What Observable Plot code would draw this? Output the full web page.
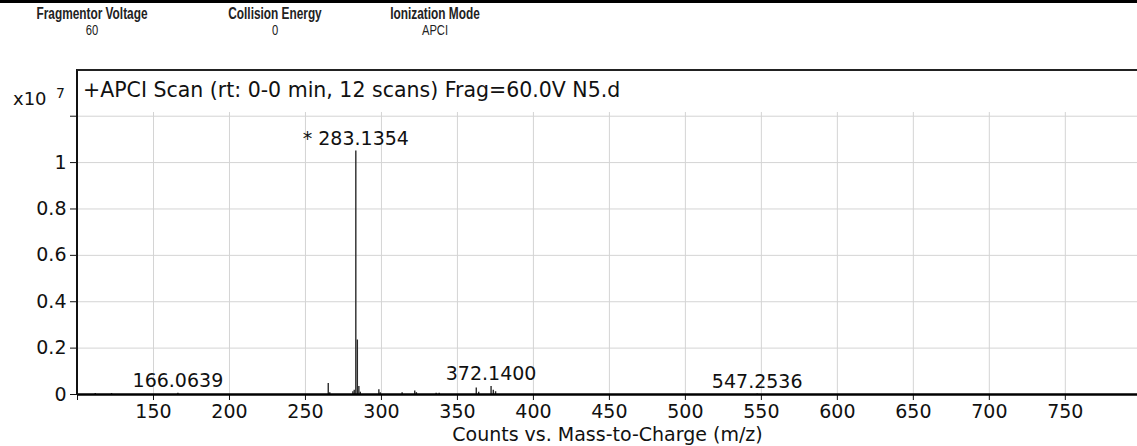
<!DOCTYPE html>
<html>
<head>
<meta charset="utf-8">
<script src="https://cdn.jsdelivr.net/npm/d3@7"></script>
<script src="https://cdn.jsdelivr.net/npm/@observablehq/plot@0.6"></script>
<style>
  html, body { margin: 0; padding: 0; background: #fff; }
  #wrap { position: relative; width: 1137px; height: 446px; overflow: hidden; background: #fff; font-family: "DejaVu Sans", sans-serif; color: #111; }
  #topbar { position: absolute; left: 0; top: 0; width: 1137px; height: 3px; background: #000; }
  .hd { position: absolute; width: 200px; text-align: center; color: #222; white-space: nowrap; }
  .hd.t { font-family: "Liberation Sans", Arial, sans-serif; font-weight: bold; font-size: 16px; line-height: 16px; transform: scaleX(0.74); }
  .hd.v { font-family: "Liberation Sans", Arial, sans-serif; font-size: 14px; line-height: 14px; transform: scaleX(0.8); }
  .ab { position: absolute; line-height: 1; white-space: nowrap; }
  #chart { position: absolute; left: 0; top: 64px; }
  #frame { position: absolute; left: 76px; top: 69px; width: 1061px; height: 326px; box-sizing: border-box; border-top: 2px solid #222; border-left: 2px solid #111; pointer-events: none; }
</style>
</head>
<body>
<div id="wrap">
  <div id="topbar"></div>
  <div class="hd t" style="left:-8px; top:6px;">Fragmentor Voltage</div>
  <div class="hd v" style="left:-8px; top:23px;">60</div>
  <div class="hd t" style="left:175px; top:6px;">Collision Energy</div>
  <div class="hd v" style="left:175px; top:23px;">0</div>
  <div class="hd t" style="left:335px; top:6px;">Ionization Mode</div>
  <div class="hd v" style="left:335px; top:23px;">APCI</div>
  <div id="chart"></div>
  <div id="frame"></div>
  <div class="ab" style="left:13px; top:90px; font-size:18px;">x10</div>
  <div class="ab" style="left:56px; top:86px; font-size:14px;">7</div>
  <div class="ab" style="left:83px; top:80px; font-size:20.5px;">+APCI Scan (rt: 0-0 min, 12 scans) Frag=60.0V N5.d</div>
</div>
<script>
// Peak list (m/z) and intensities (Counts, ×10^7)
const mz = [111.7, 122.4, 166.06, 265.0, 266.0, 281.2, 282.1, 283.1354, 284.14, 285.14, 286.1, 298.3, 299.2, 313.6, 321.9, 323.0, 336.0, 338.0, 362.4, 364.0, 372.14, 373.6, 375.1, 547.25];
const intensity = [0.004, 0.004, 0.005, 0.047, 0.008, 0.012, 0.018, 1.05, 0.235, 0.035, 0.01, 0.02, 0.008, 0.008, 0.015, 0.008, 0.005, 0.005, 0.028, 0.01, 0.035, 0.018, 0.012, 0.002];

// Annotated peaks
const labelMz = [166.0639, 283.1354, 372.1400, 547.2536];
const labelIntensity = [0.005, 1.05, 0.035, 0.002];
const labelText = ["166.0639", "* 283.1354", "372.1400", "547.2536"];

// Axis ticks
const xTicks = [100, 150, 200, 250, 300, 350, 400, 450, 500, 550, 600, 650, 700, 750];
const yTicks = [0, 0.2, 0.4, 0.6, 0.8, 1, 1.2];
const xDomain = [100, 797.5];
const yDomain = [0, 1.216];

const peaks = mz.map((m, i) => ({mz: m, intensity: intensity[i]}));
const labels = labelMz.map((m, i) => ({mz: m, intensity: labelIntensity[i], label: labelText[i]}));

const chart = Plot.plot({
  width: 1137,
  height: 382,
  marginTop: 48,
  marginBottom: 52,
  marginLeft: 77,
  marginRight: 0,
  style: {fontFamily: "DejaVu Sans, sans-serif", fontSize: "19px", color: "#111", background: "transparent"},
  x: {domain: xDomain},
  y: {domain: yDomain},
  marks: [
    Plot.gridX(xTicks.filter(d => d > 100), {stroke: "#d4d4d4", strokeOpacity: 1, strokeWidth: 1}),
    Plot.gridY(yTicks.filter(d => d > 0), {stroke: "#d4d4d4", strokeOpacity: 1, strokeWidth: 1}),
    Plot.axisY(yTicks, {
      tickSize: 7, tickPadding: 4, stroke: "#111", label: null,
      tickFormat: d => d >= 1.2 ? "" : String(+d.toFixed(1)),
      fontSize: 19
    }),
    Plot.axisX(xTicks, {
      tickSize: 6, tickPadding: 4, stroke: "#111",
      tickFormat: d => d === 100 ? "" : String(d),
      label: "Counts vs. Mass-to-Charge (m/z)", labelAnchor: "center", labelArrow: "none", labelOffset: 46,
      fontSize: 19
    }),
    Plot.ruleX(peaks, {x: "mz", y1: 0, y2: "intensity", stroke: "#2a2a2a", strokeWidth: 1.4}),
    Plot.ruleY([0], {stroke: "#000", strokeWidth: 2.5}),
    Plot.text(labels, {x: "mz", y: "intensity", text: "label", dy: -6, lineAnchor: "bottom", textAnchor: "middle", fontSize: 19, fill: "#111"})
  ]
});
document.getElementById("chart").appendChild(chart);
</script>
</body>
</html>
